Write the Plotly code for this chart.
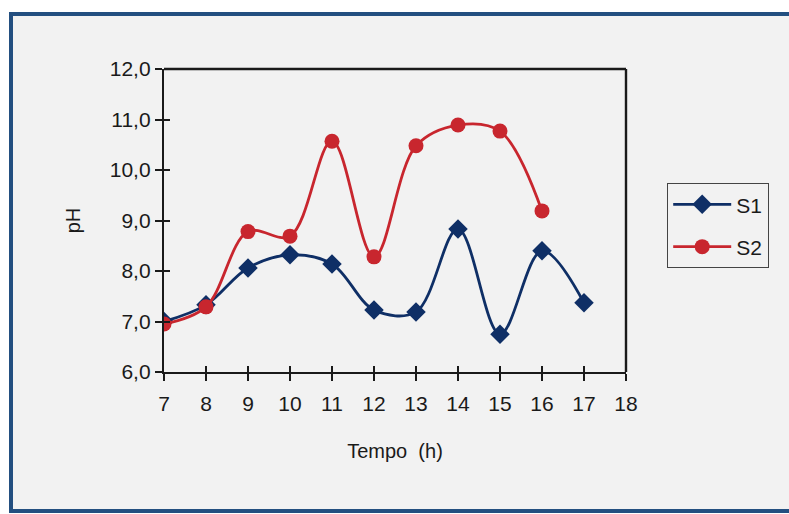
import plotly.graph_objects as go

# Data
hours = [7, 8, 9, 10, 11, 12, 13, 14, 15, 16, 17]
s1_ph = [7.0, 7.33, 8.06, 8.32, 8.14, 7.23, 7.19, 8.83, 6.75, 8.40, 7.37]
s2_hours = [7, 8, 9, 10, 11, 12, 13, 14, 15, 16]
s2_ph = [6.95, 7.29, 8.78, 8.69, 10.57, 8.28, 10.48, 10.89, 10.77, 9.19]
x_ticks = list(range(7, 19))
y_ticks = [6.0, 7.0, 8.0, 9.0, 10.0, 11.0, 12.0]

W, H = 789, 514
# plot area in pixels
PL, PR, PT, PB = 164, 626, 69, 372
pw, ph = PR - PL, PB - PT

def px(x):
    return (x - PL) / pw

def py(y):
    return (PB - y) / ph

BG = "#f2f2f2"
FONT = "Liberation Sans, Arial, sans-serif"
INK = "#1a1a1a"

fig = go.Figure()
fig.add_trace(go.Scatter(
    x=hours, y=s1_ph, name="S1", legendgroup="s1", mode="lines+markers",
    line=dict(color="#0f2f66", width=2.8, shape="spline", smoothing=1.0),
    marker=dict(symbol="diamond", size=15, color="#0f2f66"),
))
fig.add_trace(go.Scatter(
    x=s2_hours, y=s2_ph, name="S2", legendgroup="s2", mode="lines+markers",
    line=dict(color="#c8262e", width=2.8, shape="spline", smoothing=1.0),
    marker=dict(symbol="circle", size=15, color="#c8262e"),
))
# invisible trace carrying the inner tick marks
fig.add_trace(go.Scatter(x=[7], y=[6], xaxis="x2", yaxis="y2",
                         mode="markers", marker=dict(opacity=0),
                         showlegend=False, hoverinfo="skip"))

axis_common = dict(showgrid=False, zeroline=False, showline=True,
                   linecolor=INK, linewidth=2.4, tickcolor=INK,
                   tickwidth=1.5, ticklen=7, mirror=False)

fig.update_layout(
    width=W, height=H,
    margin=dict(l=PL, r=W - PR, t=PT, b=H - PB),
    paper_bgcolor="white",
    plot_bgcolor=BG,
    separators=",.",
    font=dict(family=FONT, color=INK, size=21),
    xaxis=dict(range=[7, 18], tickvals=x_ticks, ticks="outside",
               ticklabelstandoff=5,
               title=dict(text="Tempo  (h)", font=dict(size=20), standoff=30),
               **axis_common),
    yaxis=dict(range=[6, 12], tickvals=y_ticks, tickformat=".1f",
               ticks="outside",
               title=dict(text="pH", font=dict(size=20), standoff=24),
               **axis_common),
    xaxis2=dict(range=[7, 18], overlaying="x", anchor="y2", tickvals=x_ticks,
                ticks="inside", ticklen=6, tickwidth=1.5, tickcolor=INK,
                showticklabels=False, showgrid=False, zeroline=False,
                showline=False),
    yaxis2=dict(range=[6, 12], overlaying="y", anchor="x2", tickvals=y_ticks,
                ticks="inside", ticklen=6, tickwidth=1.5, tickcolor=INK,
                showticklabels=False, showgrid=False, zeroline=False,
                showline=False),
    legend=dict(x=px(667), y=py(183), xanchor="left", yanchor="top",
                bgcolor=BG, bordercolor="#444444", borderwidth=1.2,
                font=dict(size=21), itemwidth=58, tracegroupgap=12),
    shapes=[
        # framed chart area
        dict(type="rect", xref="paper", yref="paper", layer="below",
             x0=px(11), x1=px(W + 20), y0=py(511), y1=py(14),
             fillcolor=BG, line=dict(color="#234f80", width=4)),
        # top edge of plot box
        dict(type="line", xref="paper", yref="paper",
             x0=0, x1=1, y0=1, y1=1, line=dict(color=INK, width=2.4)),
        # right edge of plot box
        dict(type="line", xref="paper", yref="paper",
             x0=1, x1=1, y0=0, y1=1, line=dict(color=INK, width=2.4)),
    ],
)

fig.write_html("out.html")
